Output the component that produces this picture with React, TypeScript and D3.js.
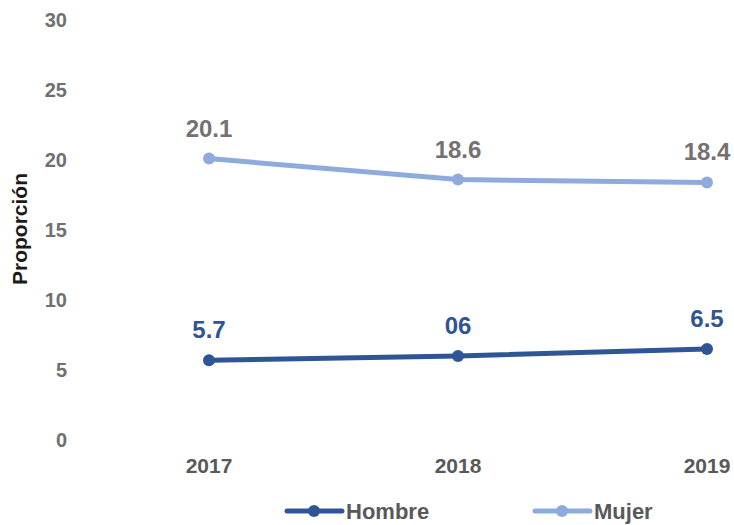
import * as d3 from "d3";

const years = ["2017", "2018", "2019"];
const hombre = [5.7, 6.0, 6.5];
const mujer = [20.1, 18.6, 18.4];
const hombreLabels = ["5.7", "06", "6.5"];
const mujerLabels = ["20.1", "18.6", "18.4"];
const yTicks = [0, 5, 10, 15, 20, 25, 30];

const WIDTH = 734;
const HEIGHT = 525;
const FONT = "'Liberation Sans', Arial, sans-serif";
const HOMBRE_COLOR = "#2F5597";
const MUJER_COLOR = "#8FAADC";

export default function App() {
  const xScale = d3.scalePoint().domain(years).range([209, 707]);
  const yScale = d3.scaleLinear().domain([0, 30]).range([440, 20]);

  const line = d3
    .line<number>()
    .x((_, i) => xScale(years[i]) as number)
    .y((d) => yScale(d));

  const series = [
    { name: "Hombre", values: hombre, labels: hombreLabels, color: HOMBRE_COLOR, labelColor: HOMBRE_COLOR },
    { name: "Mujer", values: mujer, labels: mujerLabels, color: MUJER_COLOR, labelColor: "#767171" },
  ];

  const legendX = [287, 535];

  return (
    <svg
      width={WIDTH}
      height={HEIGHT}
      style={{ position: "absolute", top: 0, left: 0, background: "#fff" }}
      fontFamily={FONT}
    >
      {/* Y axis labels */}
      {yTicks.map((t) => (
        <text
          key={t}
          x={67}
          y={yScale(t)}
          dy="0.35em"
          textAnchor="end"
          fontSize={20}
          fontWeight="bold"
          fill="#707070"
        >
          {t}
        </text>
      ))}
      <text
        transform="translate(27,229) rotate(-90)"
        textAnchor="middle"
        fontSize={21}
        fontWeight="bold"
        fill="#1a1a1a"
      >
        Proporción
      </text>

      {/* X axis labels */}
      {years.map((y) => (
        <text
          key={y}
          x={xScale(y)}
          y={473}
          textAnchor="middle"
          fontSize={21}
          fontWeight="bold"
          fill="#595959"
        >
          {y}
        </text>
      ))}

      {/* Lines */}
      {series.map((s) => (
        <g key={s.name}>
          <path d={line(s.values) ?? ""} fill="none" stroke={s.color} strokeWidth={5} strokeLinecap="round" />
          {s.values.map((v, i) => (
            <circle key={i} cx={xScale(years[i])} cy={yScale(v)} r={6} fill={s.color} />
          ))}
          {s.values.map((v, i) => (
            <text
              key={"l" + i}
              x={xScale(years[i])}
              y={yScale(v) - 22}
              textAnchor="middle"
              fontSize={24}
              fontWeight="bold"
              fill={s.labelColor}
            >
              {s.labels[i]}
            </text>
          ))}
        </g>
      ))}

      {/* Legend */}
      {series.map((s, i) => (
        <g key={"leg" + s.name} transform={`translate(${legendX[i]},511)`}>
          <line x1={0} x2={55} y1={0} y2={0} stroke={s.color} strokeWidth={5} strokeLinecap="round" />
          <circle cx={27} cy={0} r={6} fill={s.color} />
          <text x={59} y={8} fontSize={22} fontWeight="bold" fill="#595959">
            {s.name}
          </text>
        </g>
      ))}
    </svg>
  );
}
